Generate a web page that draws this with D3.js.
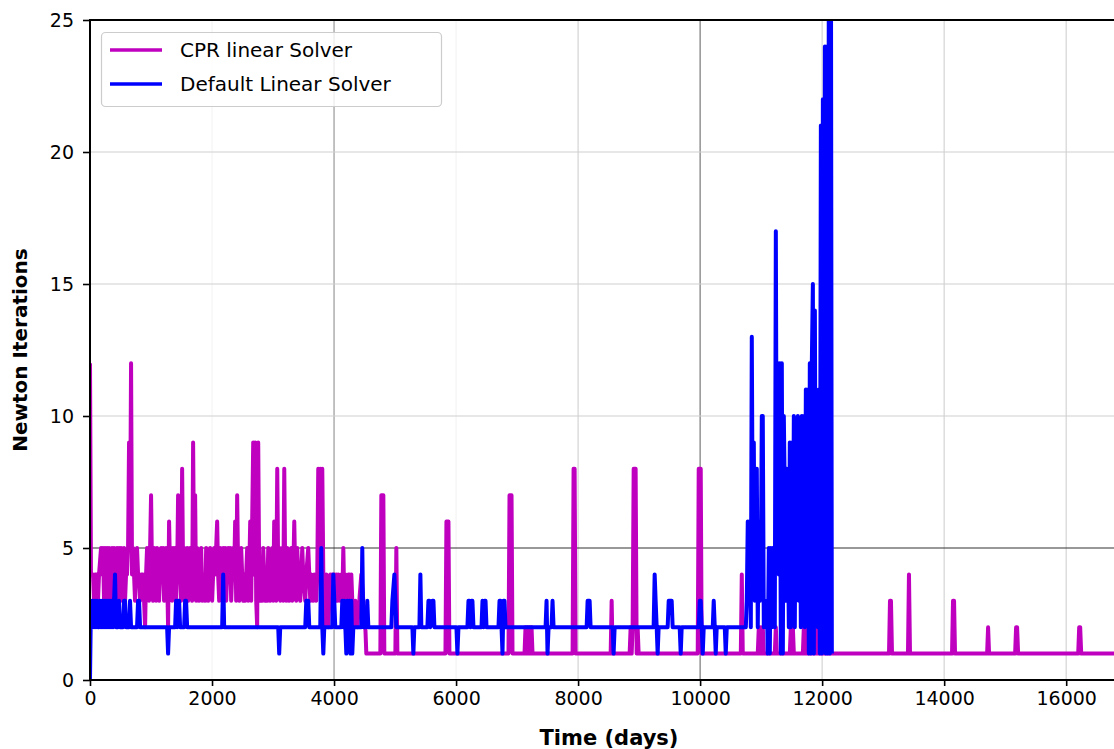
<!DOCTYPE html>
<html>
<head>
<meta charset="utf-8">
<script src="https://cdn.jsdelivr.net/npm/d3@7"></script>
<style>
body { margin: 0; padding: 0; background: #fff; }
svg { display: block; }
</style>
</head>
<body>
<script>
// [day, newton iterations] per time step
var cprSteps = [[0,12],[16,4],[49,4],[66,3],[82,4],[115,4],[131,3],[148,4],[181,5],[197,4],[213,5],[230,3],[246,5],[263,4],[279,5],[295,3],[312,5],[328,4],[345,3],[361,5],[377,4],[394,5],[410,3],[427,4],[443,5],[459,3],[476,5],[492,4],[509,5],[525,3],[542,4],[558,5],[574,3],[591,4],[607,4],[624,5],[640,9],[656,5],[673,12],[689,4],[706,5],[722,4],[738,3],[755,4],[771,5],[788,4],[804,4],[821,3],[837,4],[870,4],[886,3],[903,2],[919,4],[935,5],[952,4],[968,3],[985,5],[1001,7],[1017,4],[1034,3],[1050,5],[1067,4],[1083,3],[1099,5],[1116,4],[1132,3],[1149,4],[1165,5],[1182,4],[1198,5],[1214,3],[1231,4],[1247,5],[1264,4],[1280,2],[1296,6],[1313,4],[1329,5],[1346,3],[1362,5],[1378,4],[1395,5],[1411,3],[1428,4],[1444,7],[1460,4],[1477,5],[1493,3],[1510,8],[1526,4],[1543,5],[1559,3],[1575,4],[1592,5],[1608,3],[1625,4],[1641,5],[1657,4],[1674,3],[1690,9],[1707,4],[1723,7],[1739,3],[1756,5],[1772,4],[1789,3],[1805,4],[1822,5],[1838,3],[1854,4],[1887,3],[1904,5],[1920,4],[1936,3],[1953,4],[1969,5],[1986,4],[2002,3],[2018,4],[2035,5],[2051,4],[2084,6],[2100,4],[2117,3],[2133,5],[2150,4],[2166,3],[2183,5],[2199,4],[2215,5],[2232,3],[2248,4],[2265,5],[2281,4],[2297,5],[2314,3],[2330,4],[2347,5],[2363,4],[2379,6],[2396,3],[2412,7],[2429,4],[2445,3],[2462,4],[2478,5],[2494,4],[2511,3],[2527,4],[2544,3],[2560,4],[2576,5],[2593,3],[2609,4],[2626,6],[2642,3],[2658,6],[2675,9],[2691,4],[2708,9],[2724,3],[2740,2],[2757,9],[2773,4],[2790,3],[2806,4],[2823,3],[2839,5],[2855,4],[2872,3],[2888,4],[2905,3],[2921,5],[2937,4],[2954,3],[2970,4],[2987,5],[3003,3],[3019,6],[3036,4],[3052,3],[3069,8],[3085,4],[3101,5],[3118,3],[3134,4],[3151,5],[3167,3],[3184,8],[3200,4],[3216,3],[3233,5],[3249,4],[3266,3],[3282,4],[3298,5],[3315,3],[3331,4],[3348,6],[3364,4],[3380,3],[3397,5],[3413,4],[3446,3],[3463,4],[3479,5],[3495,4],[3528,3],[3545,4],[3577,5],[3594,4],[3610,3],[3627,4],[3659,3],[3676,4],[3709,3],[3725,4],[3741,8],[3758,4],[3774,8],[3791,3],[3807,8],[3824,4],[3840,3],[3856,2],[3873,4],[3889,3],[3906,2],[3922,3],[3938,4],[3955,3],[3971,4],[3988,3],[4004,4],[4020,3],[4037,4],[4053,3],[4070,4],[4103,3],[4119,4],[4135,3],[4152,5],[4168,3],[4185,4],[4201,3],[4234,4],[4250,4],[4267,3],[4283,4],[4299,3],[4316,2],[4349,3],[4381,2],[4414,3],[4447,4],[4480,3],[4513,2],[4529,1],
    [4759,1],[4775,7],[4808,7],[4824,1],[5005,1],[5021,5],[5038,1],[5826,1],[5842,6],[5875,6],[5891,1],[6859,1],[6876,7],[6909,7],[6925,1],[7122,1],[7138,2],[7155,1],[7171,2],[7188,1],[7204,2],[7220,1],[7237,2],[7253,1],[7910,1],[7926,8],[7943,8],[7959,1],[8534,1],[8550,3],[8566,1],[8845,1],[8861,2],[8878,1],[8894,2],[8911,8],[8943,8],[8960,1],[8976,2],[8992,1],[9961,1],[9977,8],[10010,8],[10026,1],[10667,1],[10683,4],[10699,1],[10945,1],[10962,2],[10978,1],[10995,2],[11011,1],[11027,2],[11044,1],[11224,1],[11241,2],[11257,1],[11470,1],[11487,2],[11503,1],[11520,2],[11536,1],[11684,1],[11700,2],[11717,1],[11733,2],[11750,1],[11881,1],[11897,2],[11914,1],[11930,2],[11946,1],
    [13096,1],[13112,3],[13128,3],[13145,1],[13407,1],[13423,4],[13440,1],[14129,1],[14145,3],[14162,3],[14178,1],[14704,1],[14720,2],[14736,1],[15163,1],[15179,2],[15195,2],[15212,1],[16197,1],[16213,2],[16229,2],[16246,1],[17000,1]];

var defaultSteps = [[0,0],[16,3],[33,2],[49,3],[66,2],[82,3],[98,2],[115,3],[131,2],[148,2],[164,3],[181,2],[197,3],[213,2],[230,3],[246,2],[263,3],[279,2],[295,3],[312,2],[328,3],[345,2],[361,3],[377,2],[394,3],[410,4],[427,2],[459,2],[476,3],[492,2],[542,2],[558,3],[574,3],[591,2],[640,2],[656,3],[673,2],[771,2],[788,3],[804,3],[821,2],[1264,2],[1280,1],[1296,2],[1395,2],[1411,3],[1428,2],[1444,3],[1460,3],[1477,2],[1543,2],[1559,3],[1575,3],[1592,2],[2166,2],[2183,4],[2199,2],[3085,2],[3101,1],[3118,2],[3528,2],[3545,3],[3577,3],[3594,2],[3774,2],[3791,5],[3807,2],[3824,1],[3840,2],[3971,2],[3988,4],[4004,3],[4020,2],[4119,2],[4135,3],[4152,2],[4168,3],[4185,2],[4201,1],[4217,3],[4234,2],[4250,3],[4267,1],[4283,3],[4299,1],[4316,2],[4447,2],[4463,5],[4480,2],[4529,2],[4545,3],[4562,2],
    [4939,2],[4956,3],[4989,4],[5005,3],[5021,2],[5284,2],[5300,1],[5316,2],[5399,2],[5415,4],[5431,2],[5530,2],[5547,3],[5563,3],[5579,2],[5612,3],[5629,3],[5645,2],[6006,2],[6022,1],[6039,2],[6186,2],[6203,3],[6219,3],[6236,2],[6252,3],[6268,3],[6285,2],[6417,2],[6433,3],[6450,2],[6466,3],[6483,3],[6499,2],[6695,2],[6712,3],[6728,3],[6745,2],[6761,1],[6777,3],[6794,3],[6810,2],[7467,2],[7483,3],[7499,1],[7516,2],[7565,2],[7581,3],[7598,2],[8140,2],[8156,3],[8189,3],[8205,2],[8566,2],[8582,1],[8599,2],[9238,2],[9255,4],[9271,3],[9288,2],[9304,1],[9320,2],[9468,2],[9485,3],[9534,3],[9550,2],[9665,2],[9682,1],[9698,2],[9977,2],[9994,3],[10010,3],[10026,2],[10043,1],[10059,2],[10207,2],[10223,3],[10240,2],[10256,1],[10272,2],[10404,2],[10420,1],[10437,2],
    [10749,2],[10765,3],[10781,6],[10798,3],[10814,6],[10831,2],[10847,13],[10863,5],[10880,9],[10896,3],[10913,5],[10929,8],[10945,2],[10962,6],[10978,3],[10995,4],[11011,10],[11027,10],[11044,2],[11060,3],[11076,2],[11093,3],[11109,1],[11126,5],[11142,1],[11158,5],[11175,2],[11191,5],[11208,3],[11224,2],[11241,17],[11257,5],[11274,12],[11290,4],[11306,12],[11323,1],[11339,12],[11356,1],[11372,10],[11388,7],[11405,3],[11421,8],[11438,6],[11454,2],[11470,9],[11487,2],[11503,9],[11520,3],[11536,10],[11552,2],[11569,9],[11585,4],[11602,10],[11618,3],[11634,9],[11651,2],[11667,10],[11684,3],[11700,10],[11716,2],[11733,11],[11749,4],[11766,11],[11782,1],[11798,12],[11815,1],[11831,12],[11848,15],[11864,1],[11881,14],[11897,3],[11913,9],[11930,2],[11946,11],[11963,1],[11979,21],[11996,1],[12012,22],[12028,2],[12045,24],[12061,1],[12077,24],[12094,1],[12110,28],[12127,1],[12143,30],[12159,1]];

var seriesNames = ["CPR linear Solver", "Default Linear Solver"];
var xTicks = [0, 2000, 4000, 6000, 8000, 10000, 12000, 14000, 16000];
var yTicks = [0, 5, 10, 15, 20, 25];

var width = 1114, height = 749;
var plotLeft = 90, plotTop = 20, plotBottom = 680;

var svg = d3.select("body").append("svg")
    .attr("width", width)
    .attr("height", height);

var x = d3.scaleLinear().domain([0, 16800]).range([plotLeft, 1115]);
var y = d3.scaleLinear().domain([0, 25]).range([plotBottom, plotTop]);

// grid (shades vary in the original raster)
var xGridShade = {2000: "#f4f4f4", 4000: "#999", 6000: "#f4f4f4", 10000: "#777"};
var yGridShade = {5: "#333"};
svg.append("g").selectAll("line")
    .data(xTicks.slice(1))
    .enter().append("line")
    .attr("x1", function(d){ return x(d); })
    .attr("x2", function(d){ return x(d); })
    .attr("y1", plotTop).attr("y2", plotBottom)
    .style("stroke", function(d){ return xGridShade[d] || "#d4d4d4"; })
    .style("stroke-width", 1.2);
svg.append("g").selectAll("line")
    .data(yTicks.slice(1, -1))
    .enter().append("line")
    .attr("x1", plotLeft).attr("x2", width)
    .attr("y1", function(d){ return y(d); })
    .attr("y2", function(d){ return y(d); })
    .style("stroke", function(d){ return yGridShade[d] || "#d0d0d0"; })
    .style("stroke-width", 1.1);

svg.append("clipPath").attr("id", "plot")
    .append("rect")
    .attr("x", plotLeft).attr("y", plotTop)
    .attr("width", width - plotLeft).attr("height", plotBottom - plotTop);

var line = d3.line()
    .x(function(d){ return x(d[0]); })
    .y(function(d){ return y(d[1]); });

var colors = ["#bf00bf", "#0000ff"];
var series = [cprSteps, defaultSteps];

svg.append("g").attr("clip-path", "url(#plot)")
    .selectAll("path")
    .data(series)
    .enter().append("path")
    .attr("d", line)
    .attr("fill", "none")
    .attr("stroke", function(_, i){ return colors[i]; })
    .attr("stroke-width", 4)
    .attr("stroke-linejoin", "round");

// axes
var xAxis = d3.axisBottom(x).tickValues(xTicks).tickFormat(d3.format("d"))
    .tickSize(6).tickSizeOuter(0).tickPadding(6);
var yAxis = d3.axisLeft(y).tickValues(yTicks).tickFormat(d3.format("d"))
    .tickSize(7).tickSizeOuter(0).tickPadding(9);

var gx = svg.append("g").attr("transform", "translate(0," + plotBottom + ")").call(xAxis);
var gy = svg.append("g").attr("transform", "translate(" + plotLeft + ",0)").call(yAxis);
[gx, gy].forEach(function(g){
    g.select(".domain").remove();
    g.selectAll(".tick line").attr("stroke", "#000").attr("stroke-width", 1.6);
    g.selectAll(".tick text")
        .attr("fill", "#000")
        .style("font-family", "DejaVu Sans")
        .style("font-size", "19px");
});

// spines
svg.append("line").attr("x1", plotLeft).attr("x2", width).attr("y1", plotTop).attr("y2", plotTop)
    .style("stroke", "#000").style("stroke-width", 2);
svg.append("line").attr("x1", plotLeft).attr("x2", width).attr("y1", plotBottom).attr("y2", plotBottom)
    .style("stroke", "#000").style("stroke-width", 2);
svg.append("line").attr("x1", plotLeft).attr("x2", plotLeft).attr("y1", plotTop - 1).attr("y2", plotBottom + 1)
    .style("stroke", "#000").style("stroke-width", 2);

// axis labels
svg.append("text")
    .attr("x", 609).attr("y", 745)
    .attr("text-anchor", "middle")
    .style("font-family", "DejaVu Sans")
    .style("font-weight", "bold")
    .style("font-size", "21px")
    .text("Time (days)");
svg.append("text")
    .attr("transform", "translate(27,350) rotate(-90)")
    .attr("text-anchor", "middle")
    .style("font-family", "DejaVu Sans")
    .style("font-weight", "bold")
    .style("font-size", "20px")
    .text("Newton Iterations");

// legend
var legend = svg.append("g");
legend.append("rect")
    .attr("x", 101.5).attr("y", 32.5)
    .attr("width", 340).attr("height", 74)
    .attr("rx", 4)
    .style("fill", "#fff").style("fill-opacity", 0.8)
    .style("stroke", "#cccccc").style("stroke-width", 1.2);
var item = legend.selectAll(".item")
    .data(seriesNames)
    .enter().append("g")
    .attr("transform", function(_, i){ return "translate(0," + (50 + i * 34) + ")"; });
item.append("line")
    .attr("x1", 110).attr("x2", 162)
    .style("stroke", function(_, i){ return colors[i]; })
    .style("stroke-width", 3.4);
item.append("text")
    .attr("x", 180).attr("y", 7)
    .style("font-family", "DejaVu Sans")
    .style("font-size", "20px")
    .text(function(d){ return d; });
</script>
</body>
</html>
